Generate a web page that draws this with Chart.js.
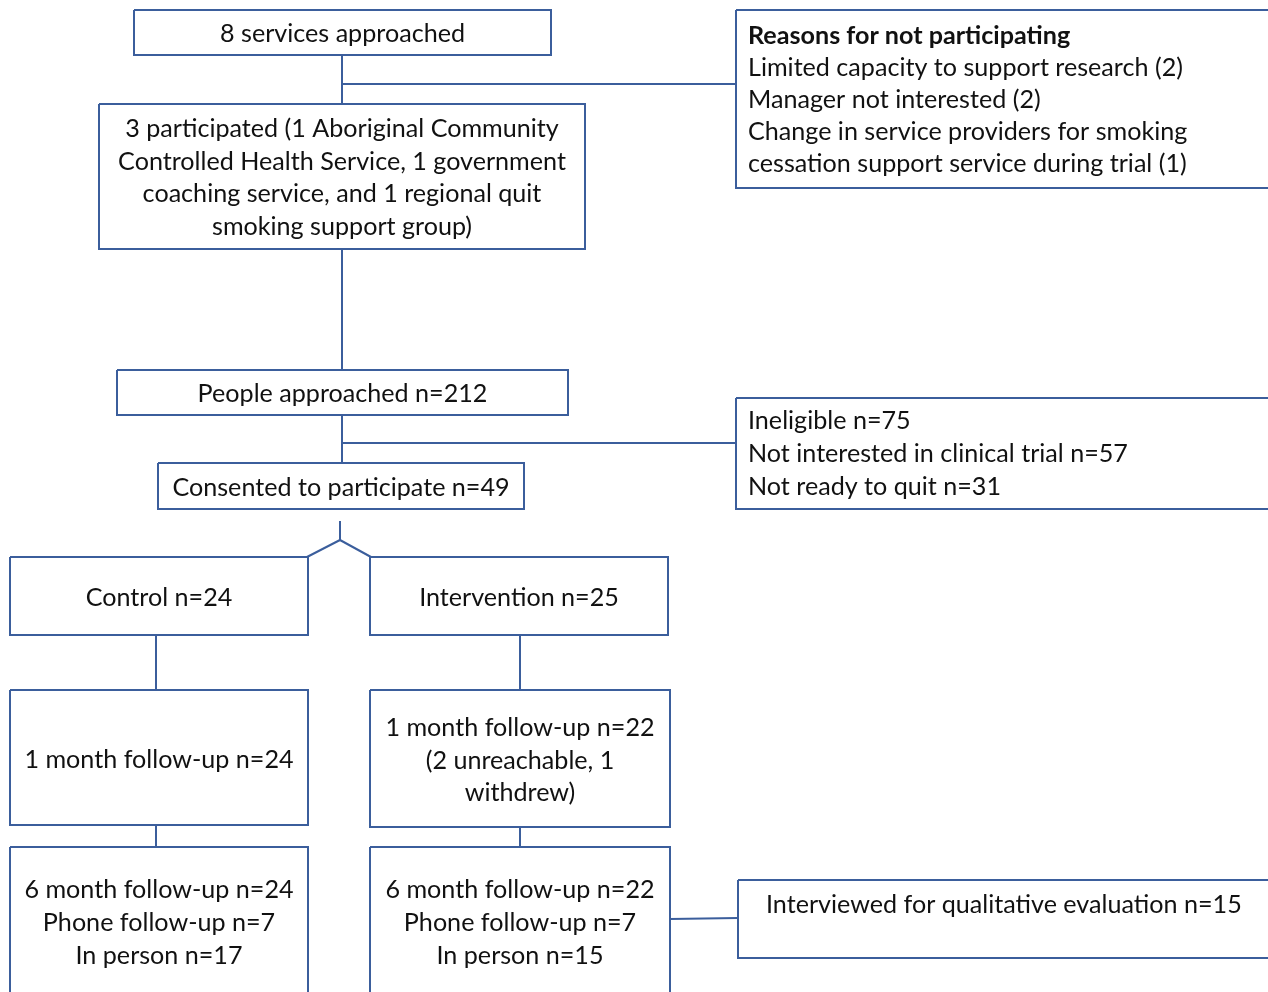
<!DOCTYPE html>
<html>
<head>
<meta charset="utf-8">
<script src="https://cdn.jsdelivr.net/npm/chart.js@4/dist/chart.umd.min.js"></script>
<style>
  html, body { margin: 0; padding: 0; background: #ffffff; }
  #wrap { width: 1268px; height: 992px; position: relative; }
</style>
</head>
<body>
<div id="wrap"><canvas id="c"></canvas></div>
<script>
// ---------------- DATA ----------------
const servicesApproached = 8;
const servicesParticipated = 3;
const participatingServices = ['1 Aboriginal Community Controlled Health Service', '1 government coaching service', '1 regional quit smoking support group'];
const serviceRefusalReasons = ['Limited capacity to support research', 'Manager not interested', 'Change in service providers for smoking cessation support service during trial'];
const serviceRefusalCounts = [2, 2, 1];
const peopleApproached = 212;
const exclusionReasons = ['Ineligible', 'Not interested in clinical trial', 'Not ready to quit'];
const exclusionCounts = [75, 57, 31];
const consented = 49;
const armNames = ['Control', 'Intervention'];
const armCounts = [24, 25];
const oneMonthCounts = [24, 22];
const sixMonthCounts = [24, 22];
const sixMonthPhone = [7, 7];
const sixMonthInPerson = [17, 15];
const interviewedQualitative = 15;

// ---------------- TEXT (built from data) ----------------
const boxLines = [
  [servicesApproached + ' services approached'],
  [servicesParticipated + ' participated (1 Aboriginal Community', 'Controlled Health Service, 1 government', 'coaching service, and 1 regional quit', 'smoking support group)'],
  ['Reasons for not participating',
   serviceRefusalReasons[0] + ' (' + serviceRefusalCounts[0] + ')',
   serviceRefusalReasons[1] + ' (' + serviceRefusalCounts[1] + ')',
   'Change in service providers for smoking',
   'cessation support service during trial (' + serviceRefusalCounts[2] + ')'],
  ['People approached n=' + peopleApproached],
  exclusionReasons.map((r, i) => r + ' n=' + exclusionCounts[i]),
  ['Consented to participate n=' + consented],
  [armNames[0] + ' n=' + armCounts[0]],
  [armNames[1] + ' n=' + armCounts[1]],
  ['1 month follow-up n=' + oneMonthCounts[0]],
  ['1 month follow-up n=' + oneMonthCounts[1], '(2 unreachable, 1', 'withdrew)'],
  ['6 month follow-up n=' + sixMonthCounts[0], 'Phone follow-up n=' + sixMonthPhone[0], 'In person n=' + sixMonthInPerson[0]],
  ['6 month follow-up n=' + sixMonthCounts[1], 'Phone follow-up n=' + sixMonthPhone[1], 'In person n=' + sixMonthInPerson[1]],
  ['Interviewed for qualitative evaluation n=' + interviewedQualitative]
];

// ---------------- LAYOUT (diagram coordinates) ----------------
// [x0, y0, x1, y1]
const boxRects = [
  [134, 10, 551, 55],
  [99, 104, 585, 249],
  [736, 10, 1290, 188],
  [117, 370, 568, 415],
  [736, 398, 1290, 509],
  [158, 463, 524, 509],
  [10, 557, 308, 635],
  [370, 557, 668, 635],
  [10, 690, 308, 825],
  [370, 690, 670, 827],
  [10, 847, 308, 1010],
  [370, 847, 670, 1010],
  [738, 880, 1290, 958]
];
// text: [anchorX or null for centre, firstLineY, lineStep]
const boxTextPos = [
  [null, 34, 0],
  [null, 129, 32.5],
  [748, 36, 32],
  [null, 394, 0],
  [748, 421, 33],
  [null, 488, 0],
  [null, 598, 0],
  [null, 598, 0],
  [null, 760, 0],
  [null, 728, 32.5],
  [null, 890, 33],
  [null, 890, 33],
  [766, 905, 0]
];
const connectors = [
  [[342, 55], [342, 104]],
  [[342, 84], [736, 84]],
  [[342, 249], [342, 370]],
  [[342, 415], [342, 463]],
  [[342, 443], [736, 443]],
  [[340, 521], [340, 540]],
  [[307, 557], [340, 540], [371, 557]],
  [[156, 635], [156, 690]],
  [[520, 635], [520, 690]],
  [[156, 825], [156, 847]],
  [[520, 827], [520, 847]],
  [[670, 919], [738, 918]]
];

const LINE_COLOR = '#3B5E9C';
const TEXT_COLOR = '#111111';
const FONT_FAMILY = 'Lato, "Open Sans", sans-serif';

const datasets = [];
boxRects.forEach(r => {
  datasets.push({
    data: [{x: r[0], y: r[1]}, {x: r[2], y: r[1]}, {x: r[2], y: r[3]}, {x: r[0], y: r[3]}, {x: r[0], y: r[1]}],
    showLine: true, borderColor: LINE_COLOR, borderWidth: 2, pointRadius: 0, tension: 0, fill: false,
    borderJoinStyle: 'miter'
  });
});
connectors.forEach(p => {
  datasets.push({
    data: p.map(q => ({x: q[0], y: q[1]})),
    showLine: true, borderColor: LINE_COLOR, borderWidth: 2, pointRadius: 0, tension: 0, fill: false
  });
});

const textPlugin = {
  id: 'boxText',
  afterDatasetsDraw(chart) {
    const ctx = chart.ctx;
    const xs = chart.scales.x, ys = chart.scales.y;
    ctx.save();
    ctx.font = '100px ' + FONT_FAMILY;
    const w = ctx.measureText('Limited capacity to support research (2)').width;
    const size = 100 * 435 / w;
    ctx.fillStyle = TEXT_COLOR;
    ctx.textBaseline = 'middle';
    boxLines.forEach((lines, i) => {
      const r = boxRects[i];
      const pos = boxTextPos[i];
      lines.forEach((line, j) => {
        const bold = (i === 2 && j === 0);
        ctx.font = (bold ? 'bold ' : '') + size.toFixed(2) + 'px ' + FONT_FAMILY;
        const y = ys.getPixelForValue(pos[1] + j * pos[2]);
        if (pos[0] === null) {
          ctx.textAlign = 'center';
          ctx.fillText(line, xs.getPixelForValue((r[0] + r[2]) / 2), y);
        } else {
          ctx.textAlign = 'left';
          ctx.fillText(line, xs.getPixelForValue(pos[0]), y);
        }
      });
    });
    ctx.restore();
  }
};

new Chart(document.getElementById('c'), {
  type: 'scatter',
  data: { datasets },
  options: {
    responsive: true,
    maintainAspectRatio: false,
    animation: false,
    layout: { padding: 0 },
    plugins: { legend: { display: false }, tooltip: { enabled: false } },
    scales: {
      x: { type: 'linear', min: 0, max: 1268, display: false },
      y: { type: 'linear', min: 0, max: 992, reverse: true, display: false }
    }
  },
  plugins: [textPlugin]
});
</script>
</body>
</html>
